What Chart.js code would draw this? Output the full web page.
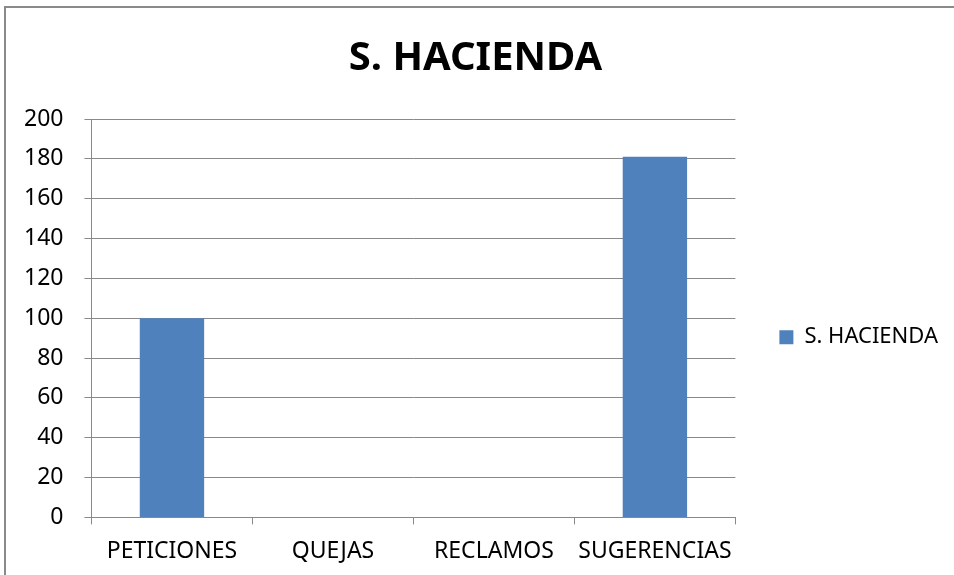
<!DOCTYPE html>
<html>
<head>
<meta charset="utf-8">
<script src="https://cdn.jsdelivr.net/npm/chart.js@4/dist/chart.umd.min.js"></script>
<style>
  html, body { margin: 0; padding: 0; background: #fff; overflow: hidden; }
  #wrap { position: relative; width: 954px; height: 575px; overflow: hidden; }
  #chart { position: absolute; left: 0; top: 0; }
  #frame {
    position: absolute; left: 4px; top: 6px; right: 0; bottom: 0;
    border-left: 2px solid #8a8a8a; border-top: 2px solid #8a8a8a;
    pointer-events: none;
  }
</style>
</head>
<body>
<div id="wrap">
  <canvas id="chart" width="954" height="578"></canvas>
  <div id="frame"></div>
</div>
<script>
// datos
const categories = ['PETICIONES', 'QUEJAS', 'RECLAMOS', 'SUGERENCIAS'];
const haciendaValues = [100, 0, 0, 181];
const seriesName = 'S. HACIENDA';
const yTicks = [0, 20, 40, 60, 80, 100, 120, 140, 160, 180, 200];

const FONT = '"Noto Sans", "Open Sans", sans-serif';
const GRID = '#898989';

new Chart(document.getElementById('chart'), {
  type: 'bar',
  data: {
    labels: categories,
    datasets: [{
      label: seriesName,
      data: haciendaValues,
      backgroundColor: '#4f81bd',
      borderWidth: 0,
      barPercentage: 0.4,
      categoryPercentage: 1
    }]
  },
  options: {
    responsive: false,
    animation: false,
    layout: { padding: { top: 0, left: 3, right: 6, bottom: 0 } },
    plugins: {
      title: {
        display: true,
        text: seriesName,
        color: '#000',
        font: { family: FONT, size: 40, weight: 'bold', lineHeight: 1.2 },
        padding: { top: 35, bottom: 36 }
      },
      legend: {
        position: 'right',
        fullSize: false,
        // titulo vacio solo para bajar la leyenda
        title: { display: true, text: ' ', font: { size: 10, lineHeight: 1.2 }, padding: 13 },
        labels: {
          color: '#000',
          font: { family: FONT, size: 22 },
          boxWidth: 14,
          boxHeight: 14,
          padding: 44
        }
      },
      tooltip: { enabled: false }
    },
    scales: {
      x: {
        grid: { offset: true, drawOnChartArea: false, drawTicks: true, tickLength: 7, color: GRID, lineWidth: 1 },
        border: { color: GRID, width: 1 },
        ticks: { color: '#000', font: { family: FONT, size: 23 }, padding: 13, maxRotation: 0 }
      },
      y: {
        min: 0,
        max: 200,
        afterBuildTicks: axis => { axis.ticks = yTicks.map(v => ({ value: v })); },
        grid: { color: GRID, lineWidth: 1, tickLength: 7 },
        border: { color: GRID, width: 1 },
        ticks: { color: '#000', font: { family: FONT, size: 23 }, padding: 21 }
      }
    }
  }
});
</script>
</body>
</html>
